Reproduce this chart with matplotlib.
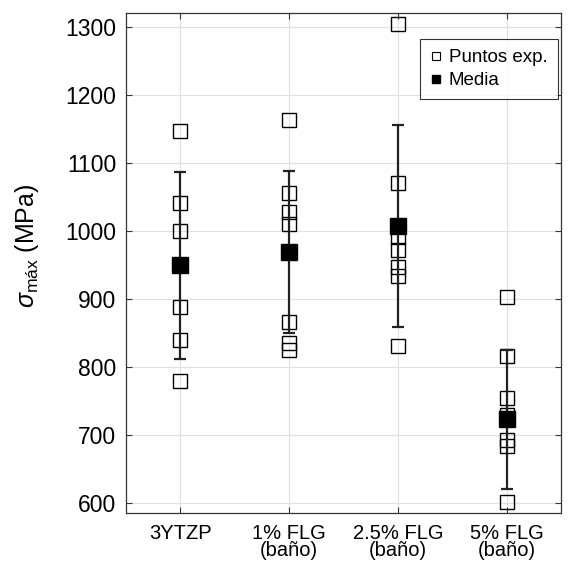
import numpy as np
import matplotlib
matplotlib.use("Agg")
import matplotlib.pyplot as plt

plt.rcParams['font.family'] = ['Liberation Sans', 'DejaVu Sans']
plt.rcParams['mathtext.fontset'] = 'custom'
plt.rcParams['mathtext.rm'] = 'Liberation Sans'
plt.rcParams['mathtext.it'] = 'Liberation Sans:italic'

# Data
labels = ["3YTZP", "1% FLG\n(baño)", "2.5% FLG\n(baño)", "5% FLG\n(baño)"]
pts_3ytzp = [1146, 1041, 1000, 888, 839, 779]
pts_1flg = [1163, 1056, 1027, 1010, 866, 835, 825]
pts_25flg = [1304, 1070, 990, 972, 947, 933, 831]
pts_5flg = [903, 816, 754, 729, 692, 684, 601]
means = [949, 969, 1007, 723]
err_top = [1086, 1088, 1156, 824]
err_bot = [811, 850, 859, 620]

groups = [pts_3ytzp, pts_1flg, pts_25flg, pts_5flg]
xpos = np.arange(1, len(labels) + 1)

fig = plt.figure(figsize=(5.73, 5.65), dpi=100)
ax = fig.add_axes([0.2199, 0.092, 0.759, 0.885])

# experimental points
for x, pts in zip(xpos, groups):
    ax.plot([x] * len(pts), pts, ls='none', marker='s', ms=10, mfc='none',
            mec='black', mew=1.0, zorder=3)

# mean with error bars
yerr = [np.array(means) - np.array(err_bot), np.array(err_top) - np.array(means)]
ax.errorbar(xpos, means, yerr=yerr, fmt='none', ecolor='#222222', elinewidth=1.6,
            capsize=4.5, capthick=1.6, zorder=4)
ax.plot(xpos, means, ls='none', marker='s', ms=11.5, color='black', zorder=5)

# legend handles
ax.plot([], [], ls='none', marker='s', ms=6, mfc='white', mec='black', mew=0.8,
        label='Puntos exp.')
ax.plot([], [], ls='none', marker='s', ms=6, color='black', label='Media')
leg = ax.legend(loc='upper right', fontsize=13.5, frameon=True, fancybox=False,
                handlelength=0.6, handletextpad=0.4, borderpad=0.55,
                borderaxespad=0, labelspacing=0.3, bbox_to_anchor=(0.993, 0.948))
leg.get_frame().set_edgecolor('black')
leg.get_frame().set_linewidth(0.8)

ax.set_xlim(0.5, 4.5)
ax.set_ylim(585, 1320)
ax.set_yticks(np.arange(600, 1301, 100))
ax.set_xticks(xpos)
ax.set_xticklabels(labels, fontsize=14.5, linespacing=0.88)
ax.tick_params(axis='y', labelsize=16.5, pad=7)
ax.tick_params(direction='in', top=True, right=True, length=4, width=0.8,
               color='#333333')
ax.tick_params(axis='x', pad=8)
ax.grid(True, color='#e0e0e0', lw=0.8)
ax.set_axisbelow(True)
for s in ax.spines.values():
    s.set_color('#333333')
    s.set_linewidth(0.9)

ax.set_ylabel(r'$\sigma_{\mathrm{máx}}$ (MPa)', fontsize=18)
ax.yaxis.set_label_coords(-0.195, 0.534)

fig.savefig('out.png', dpi=100)
